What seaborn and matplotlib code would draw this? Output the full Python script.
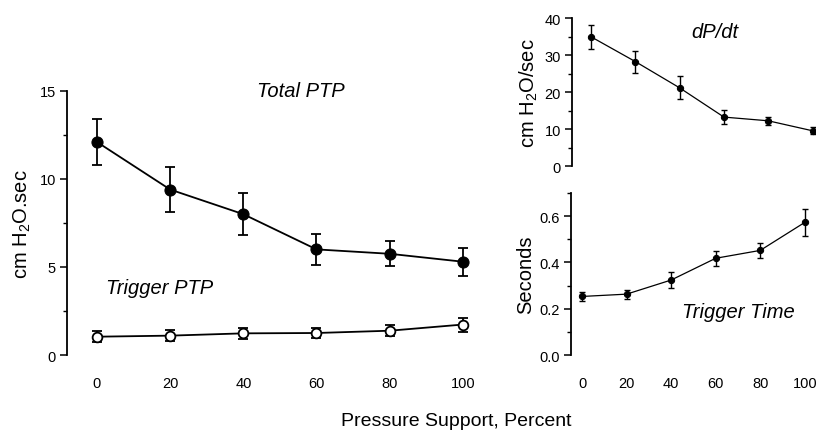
import numpy as np
import pandas as pd
import matplotlib
matplotlib.use("Agg")
import matplotlib.pyplot as plt
import seaborn as sns
from matplotlib.ticker import MultipleLocator

sns.set_theme(style="white")
plt.rcParams['font.family'] = ['Liberation Sans', 'DejaVu Sans']
plt.rcParams['mathtext.fontset'] = 'custom'
plt.rcParams['mathtext.rm'] = 'Liberation Sans'
plt.rcParams['text.color'] = 'black'
plt.rcParams['axes.labelcolor'] = 'black'

# Data
support = [0, 20, 40, 60, 80, 100]
total_ptp = [12.1, 9.4, 8.0, 6.0, 5.75, 5.3]
total_ptp_err = [1.3, 1.3, 1.2, 0.9, 0.72, 0.8]
trigger_ptp = [1.04, 1.1, 1.23, 1.25, 1.38, 1.73]
trigger_ptp_err = [0.3, 0.3, 0.3, 0.3, 0.3, 0.4]
dpdt = [35.0, 28.3, 21.2, 13.3, 12.3, 9.6]
dpdt_err = [3.2, 3.0, 3.1, 2.0, 1.1, 0.9]
trig_time = [0.253, 0.263, 0.324, 0.418, 0.452, 0.573]
trig_time_err = [0.02, 0.02, 0.033, 0.033, 0.033, 0.06]

df = pd.DataFrame({"support": support, "total": total_ptp, "trigger": trigger_ptp,
                   "dpdt": dpdt, "time": trig_time})

fig = plt.figure(figsize=(8.2, 4.35), dpi=100)
axL = fig.add_axes([0.0817, 0.1816, 0.505, 0.607])
axT = fig.add_axes([0.6976, 0.6154, 0.296, 0.3402])
axB = fig.add_axes([0.6963, 0.1816, 0.296, 0.3724])

LBL = 14.5
TXT = 14.5
TCK = 10.5

def style(ax, minor, show_x=True):
    for s in ["top", "right", "bottom"]:
        ax.spines[s].set_visible(False)
    ax.spines["left"].set_color("black")
    ax.spines["left"].set_linewidth(1.3)
    ax.yaxis.set_minor_locator(MultipleLocator(minor))
    ax.tick_params(axis="y", which="major", direction="out", length=5, width=1.1,
                   color="black", left=True, labelsize=TCK, pad=3, labelcolor="black")
    ax.tick_params(axis="y", which="minor", direction="out", length=3, width=1.0,
                   color="black", left=True)
    ax.tick_params(axis="x", length=0, labelsize=TCK, pad=15, labelcolor="black",
                   labelbottom=show_x)
    ax.set_xlabel("")
    ax.set_ylabel("")
    ax.grid(False)

# Left panel
sns.lineplot(data=df, x="support", y="total", ax=axL, color="black", lw=1.3,
             marker="o", markersize=8, markerfacecolor="black", markeredgecolor="black")
axL.errorbar(support, total_ptp, yerr=total_ptp_err, fmt="none", ecolor="black",
             elinewidth=1.3, capsize=3.5, capthick=1.3)
axL.errorbar(support, trigger_ptp, yerr=trigger_ptp_err, fmt="none", ecolor="black",
             elinewidth=1.3, capsize=3.5, capthick=1.3)
sns.lineplot(data=df, x="support", y="trigger", ax=axL, color="black", lw=1.3,
             marker="o", markersize=7, markerfacecolor="white", markeredgecolor="black",
             markeredgewidth=1.3, zorder=5)
axL.set_xlim(-8.2, 105)
axL.set_ylim(0, 15)
axL.set_xticks(support)
axL.set_yticks([0, 5, 10, 15])
style(axL, 2.5)
axL.set_ylabel("cm H$_2$O.sec", fontsize=LBL, labelpad=5)
axL.text(0.565, 1.0, "Total PTP", transform=axL.transAxes, fontsize=TXT, style="italic",
         ha="center", va="center")
axL.text(0.224, 0.256, "Trigger PTP", transform=axL.transAxes, fontsize=TXT, style="italic",
         ha="center", va="center")

# Top right panel
axT.errorbar(support, dpdt, yerr=dpdt_err, fmt="none", ecolor="black",
             elinewidth=1.0, capsize=2.5, capthick=1.0)
sns.lineplot(data=df, x="support", y="dpdt", ax=axT, color="black", lw=0.9,
             marker="o", markersize=4.5, markerfacecolor="black", markeredgecolor="black")
axT.set_xlim(-8.6, 101)
axT.set_ylim(0, 40)
axT.set_yticks([0, 10, 20, 30, 40])
style(axT, 5, show_x=False)
axT.set_xticks([])
axT.set_ylabel("cm H$_2$O/sec", fontsize=LBL, labelpad=3)
axT.text(0.59, 0.91, "dP/dt", transform=axT.transAxes, fontsize=TXT, style="italic",
         ha="center", va="center")

# Bottom right panel
axB.errorbar(support, trig_time, yerr=trig_time_err, fmt="none", ecolor="black",
             elinewidth=1.0, capsize=2.5, capthick=1.0)
sns.lineplot(data=df, x="support", y="time", ax=axB, color="black", lw=0.9,
             marker="o", markersize=4.5, markerfacecolor="black", markeredgecolor="black")
axB.set_xlim(-5, 104)
axB.set_ylim(0, 0.7)
axB.set_xticks(support)
axB.set_yticks([0.0, 0.2, 0.4, 0.6])
axB.set_yticklabels(["0.0", "0.2", "0.4", "0.6"])
style(axB, 0.1)
axB.set_ylabel("Seconds", fontsize=LBL, labelpad=3)
axB.text(0.69, 0.27, "Trigger Time", transform=axB.transAxes, fontsize=TXT, style="italic",
         ha="center", va="center")

fig.text(456 / 820, 1 - 422 / 435, "Pressure Support, Percent", fontsize=14,
         ha="center", va="center")

fig.savefig("out.png", dpi=100)
